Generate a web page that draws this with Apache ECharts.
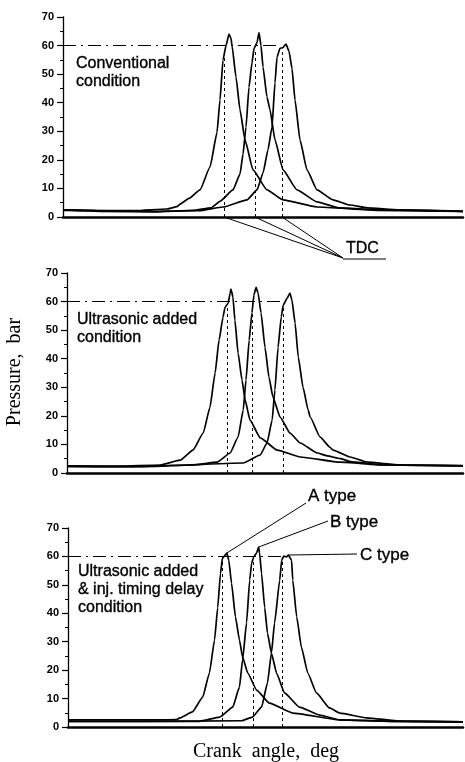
<!DOCTYPE html>
<html>
<head>
<meta charset="utf-8">
<script src="https://cdn.jsdelivr.net/npm/echarts@6/dist/echarts.min.js"></script>
<style>
html, body { margin: 0; padding: 0; background: #fff; }
#chart { width: 465px; height: 762px; }
</style>
</head>
<body>
<div id="chart"></div>
<script>
// crank angle (deg, B-type TDC near 0) vs cylinder pressure (bar)
const xMin = -48
const xMax = 52
const yTicks = [0, 10, 20, 30, 40, 50, 60, 70]

// panel 1: conventional condition
const a1 = [[-48,2.5],[-40,2.3],[-30,2.2],[-22,2.8],[-19.5,3.6],[-18.75,4.5],[-16.5,6.5],[-13.75,9.5],[-11.25,17.5],[-9.5,29.5],[-8.75,41],[-8,55],[-7.25,60],[-6.5,64],[-6,62.5],[-5.75,60],[-4.75,49],[-3.75,37.5],[-2.5,27],[-0.5,16.5],[3,9.5],[7,6],[15.5,3.5],[31,2.3],[52,2]]
const b1 = [[-48,2.5],[-38,2],[-25,1.8],[-15.5,2.3],[-11,3.2],[-8.75,5.5],[-5.5,9.5],[-3.75,15],[-3,22],[-2.25,31.5],[-1.5,45.5],[-0.75,54],[-0.25,59],[0.5,61],[1,64.5],[1.5,60],[2,52.5],[3,42],[3.75,37.5],[5,27],[7,16.5],[10.5,9.5],[15.5,5.3],[21,3.2],[31,2.5],[52,2]]
const c1 = [[-48,2.3],[-25,2],[-14,2.2],[-8,3.5],[-2,6],[0.5,9.5],[2,15.4],[3.25,23.5],[4.25,31.5],[5,47],[5.5,56],[6.25,59],[7,59.3],[7.75,60.5],[8.5,58],[9.25,52],[10,41],[11.25,27],[13,16.5],[15.5,9.5],[19.5,6],[23.75,4.2],[28,3.2],[36,2.5],[52,2]]

// panel 2: ultrasonic added condition
const a2 = [[-48,2.5],[-35,2.4],[-24.5,2.8],[-19.4,4.5],[-16.2,8],[-13.6,14],[-11.9,23],[-10.6,35],[-9.6,46.5],[-8.6,54.6],[-8.1,58],[-7.3,59.5],[-6.8,63],[-6.6,64.4],[-6.1,61.6],[-5.6,53.5],[-4.8,42],[-3.8,32.5],[-3,25.5],[-1.8,18.5],[0.8,12.3],[5.1,8],[10.9,5.6],[21,3.8],[32,2.8],[52,2.5]]
const b2 = [[-48,2.3],[-35,2.2],[-16.2,2.8],[-10.1,3.8],[-6.8,7],[-4.8,12.6],[-3.5,22],[-2.8,32.5],[-2,46.5],[-1.3,56],[-0.8,62.3],[-0.25,65],[0.25,63],[1,56],[2,44],[3,33.6],[4,26.6],[5.8,19.6],[8.3,14],[10.9,10.5],[15.2,7],[17.7,6],[21,5],[23.5,4],[32,2.8],[52,2.5]]
const c2 = [[-48,2.3],[-30,2.2],[-3.5,3.5],[0.8,6.3],[2.5,10.5],[3.8,18.5],[4.5,29],[5.3,44],[6.1,54.6],[6.6,58.8],[7.6,61.2],[8.3,63],[8.8,60.5],[9.6,52.5],[10.4,40.6],[11.6,30],[12.9,22],[13.4,19.6],[15.9,12.6],[18.4,9],[19.2,8],[23.5,5.6],[27.8,3.8],[36.1,2.8],[52,2.6]]

// panel 3: ultrasonic added & inj. timing delay condition
const a3 = [[-48,2.5],[-35,2.5],[-24.8,2.5],[-20.5,2.6],[-19.7,3.2],[-16.5,5.3],[-13.9,10.5],[-12.2,19],[-10.9,30.6],[-10.1,42],[-9.4,54],[-8.9,59.4],[-8.4,60.1],[-7.8,61.2],[-7.3,58.7],[-6.6,50.6],[-5.6,38.7],[-4.6,30.6],[-3.8,24.6],[-2.5,19],[-0.25,13],[3,8.4],[8.9,4.9],[20.8,2.5],[35,2],[52,1.8]]
const b3 = [[-48,2],[-30,2],[-14.7,2],[-9.6,3.5],[-6.3,7],[-4.6,14],[-3.8,23.6],[-2.8,36.6],[-2,51.7],[-1.5,57.7],[-1,59.8],[-0.25,61.2],[0.25,63.3],[0.5,61.2],[1,54],[1.8,42],[2.5,33],[3.5,26],[4.8,19],[6.8,12],[10.6,7],[15.7,4.2],[20.8,2.5],[35,2],[52,1.8]]
const c3 = [[-48,2],[-30,2],[-4,2.2],[-1.3,3.5],[1,7],[2.5,15.5],[3.5,26],[4.3,36.6],[5.6,51.7],[6.1,58.7],[6.6,60.1],[7.3,59.8],[7.8,60.5],[8.6,58.7],[8.9,51.7],[9.9,38.7],[11.1,28],[12.7,19],[14.9,12],[18.2,6.7],[20.8,4.9],[27.6,3.2],[35.9,2.1],[52,1.8]]

// TDC positions of the A, B, C curves and where the dashed markers stop
const tdc1 = [-7.75, 0, 6.75]
const tdc2 = [-7.6, -1.3, 6.6]
const tdc3 = [-8.9, -1.0, 6.3]
const tdcTop = [58.5, 58.5, 58.5]
// 60 bar reference line ends
const refLevel = 60
const refEnd = [5.5, 6.6, 6.1]

const panelTitles = [
  'Conventional\ncondition',
  'Ultrasonic added\ncondition',
  'Ultrasonic added\n& inj. timing delay\ncondition'
]
const typeNames = ['A type', 'B type', 'C type']

const panels = [
  { curves: [a1, b1, c1], tdc: tdc1, grid: { left: 63, top: 17, width: 400, height: 200 } },
  { curves: [a2, b2, c2], tdc: tdc2, grid: { left: 67, top: 273, width: 396, height: 200 } },
  { curves: [a3, b3, c3], tdc: tdc3, grid: { left: 68, top: 528, width: 395, height: 199 } }
]

const chart = echarts.init(document.getElementById('chart'))
const sansFont = '"Liberation Sans", Arial, sans-serif'
const serifFont = '"Liberation Serif", "Times New Roman", serif'

const grids = []
const xAxes = []
const yAxes = []
const series = []

panels.forEach((p, i) => {
  grids.push(p.grid)
  xAxes.push({
    type: 'value', gridIndex: i, min: xMin, max: xMax,
    axisLine: { onZero: false, lineStyle: { color: '#000', width: 2.5 } },
    axisTick: { show: false }, axisLabel: { show: false }, splitLine: { show: false }
  })
  yAxes.push({
    type: 'value', gridIndex: i, min: yTicks[0], max: yTicks[yTicks.length - 1], interval: 10,
    axisLine: { show: true, onZero: false, lineStyle: { color: '#000', width: 1.3 } },
    axisTick: { show: true, inside: false, length: 6, lineStyle: { color: '#000', width: 1.2 } },
    minorTick: { show: true, splitNumber: 2, length: 3, lineStyle: { color: '#000', width: 1 } },
    axisLabel: { color: '#000', fontSize: 11, fontWeight: 'bold', fontFamily: sansFont, margin: 9 },
    splitLine: { show: false }
  })

  // dashed TDC markers and the dash-dot 60 bar line
  const marks = p.tdc.map(t => [
    { coord: [t, 0], lineStyle: { type: [3, 3], width: 1, color: '#000' } },
    { coord: [t, tdcTop[i]] }
  ])
  marks.push([
    { coord: [xMin, refLevel], lineStyle: { type: [13, 5, 2, 5], width: 1.1, color: '#000' } },
    { coord: [refEnd[i], refLevel] }
  ])

  p.curves.forEach((data, k) => {
    const s = {
      type: 'line', xAxisIndex: i, yAxisIndex: i, data: data,
      showSymbol: false, smooth: 0.15, smoothMonotone: 'x',
      lineStyle: { color: '#000', width: 1.7 }, silent: true, animation: false
    }
    if (k === 0) {
      s.markLine = { silent: true, symbol: 'none', label: { show: false }, animation: false, data: marks }
    }
    series.push(s)
  })
})

chart.setOption({
  backgroundColor: '#fff',
  animation: false,
  grid: grids,
  xAxis: xAxes,
  yAxis: yAxes,
  series: series
})

// annotations
const px = (gi, pt) => chart.convertToPixel({ gridIndex: gi }, pt)
const peakOf = d => d.reduce((m, pt) => (pt[1] > m[1] ? pt : m), d[0])
const textStyle = (size, font) => ({ fill: '#000', stroke: '#000', lineWidth: 0.35, font: size + 'px ' + font, lineHeight: Math.round(size * 1.15) })
const line = (a, b, w) => ({ type: 'line', shape: { x1: a[0], y1: a[1], x2: b[0], y2: b[1] }, style: { stroke: '#000', lineWidth: w || 1 }, silent: true })

const graphic = []
const titlePos = [[76, 55], [77, 311], [78, 563]]
panelTitles.forEach((t, i) => {
  graphic.push({ type: 'text', x: titlePos[i][0], y: titlePos[i][1], style: Object.assign({ text: t }, textStyle(16, sansFont)), silent: true })
})

// TDC leader lines from panel 1 axis
const tdcJoin = [343, 258]
tdc1.forEach(t => graphic.push(line(px(0, [t, 0]), tdcJoin, 1)))
graphic.push(line([343, 259], [386, 259], 1))
graphic.push({ type: 'text', x: 346, y: 240, style: Object.assign({ text: 'TDC' }, textStyle(16, sansFont)), silent: true })

// A/B/C type leaders in panel 3
const typeEnds = [[306, 503], [328, 521], [357, 554]]
const typeText = [[308, 486], [330, 512], [360, 545]]
panels[2].curves.forEach((d, k) => {
  graphic.push(line(px(2, peakOf(d)), typeEnds[k], 1))
  graphic.push({ type: 'text', x: typeText[k][0], y: typeText[k][1], style: Object.assign({ text: typeNames[k] }, textStyle(17, sansFont)), silent: true })
})

// axis titles
graphic.push({
  type: 'text', x: 15, y: 372, rotation: Math.PI / 2,
  style: { text: 'Pressure,  bar', fill: '#000', font: '20px ' + serifFont, align: 'center', verticalAlign: 'middle' }, silent: true
})
graphic.push({
  type: 'text', x: 266, y: 752,
  style: { text: 'Crank  angle,  deg', fill: '#000', font: '20px ' + serifFont, align: 'center', verticalAlign: 'middle' }, silent: true
})

chart.setOption({ graphic: graphic })
</script>
</body>
</html>
